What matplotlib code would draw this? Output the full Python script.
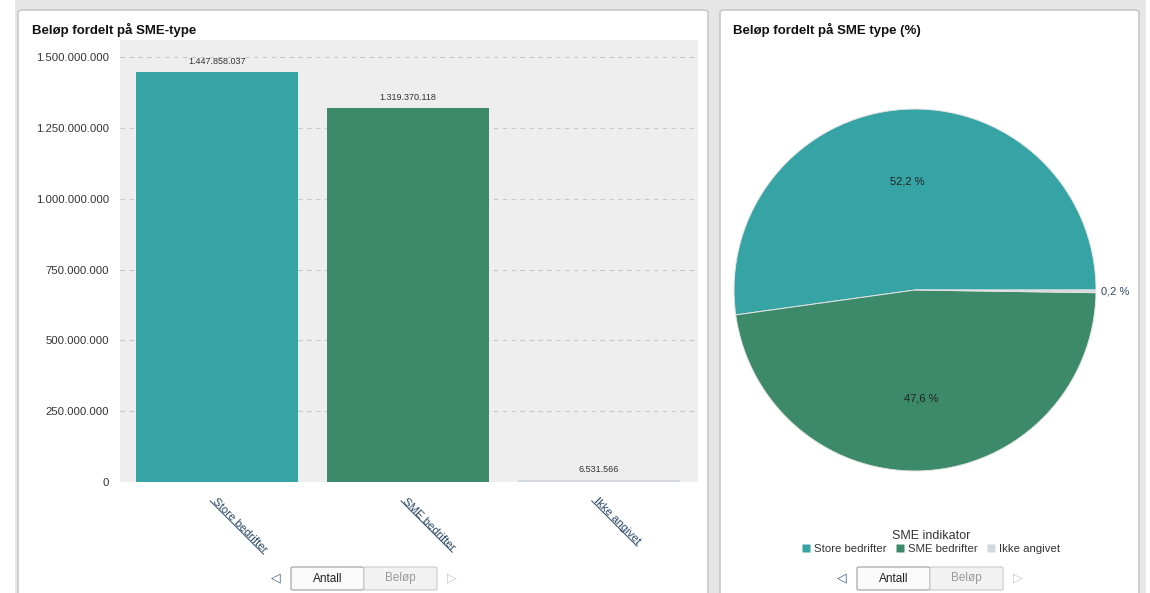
import matplotlib.pyplot as plt
from matplotlib.patches import FancyBboxPatch, Rectangle
from matplotlib.lines import Line2D
import numpy as np

plt.rcParams['font.family'] = ['Liberation Sans', 'DejaVu Sans']

# data
categories = ['Store bedrifter', 'SME bedrifter', 'Ikke angivet']
amounts = [1447858037, 1319370118, 6531566]
colors = ['#36a3a5', '#3d8a6a', '#d3d7de']
yticks = [0, 250000000, 500000000, 750000000, 1000000000, 1250000000, 1500000000]
legend_title = 'SME indikator'
left_title = 'Beløp fordelt på SME-type'
right_title = 'Beløp fordelt på SME type (%)'
buttons = ['Antall', 'Beløp']

W, H = 1150, 593


def fx(px):
    return px / W


def fy(py):
    return 1 - py / H


def thousands(v):
    return f"{int(v):,}".replace(',', '.')


fig = plt.figure(figsize=(W / 100, H / 100), dpi=100, facecolor='white')

# background and panels
fig.patches.append(Rectangle((fx(15), 0), fx(1146 - 15), 1, transform=fig.transFigure,
                             facecolor='#e6e6e6', edgecolor='none', zorder=-10))
for x0, x1 in [(18, 708), (720, 1139)]:
    fig.patches.append(FancyBboxPatch((fx(x0), fy(620)), fx(x1 - x0), fy(10) - fy(620),
                                      boxstyle='round,pad=0,rounding_size=0.004',
                                      transform=fig.transFigure, facecolor='white',
                                      edgecolor='#c8c8c8', linewidth=1.2, zorder=-9))

fig.text(fx(32), fy(30), left_title, fontsize=9.5, fontweight='bold', color='#111111', va='center')
fig.text(fx(733), fy(30), right_title, fontsize=9.5, fontweight='bold', color='#111111', va='center')

# bar chart
ax = fig.add_axes([fx(120), fy(482), fx(698 - 120), fy(40) - fy(482)])
ax.set_facecolor('#eeeeee')
x = np.arange(len(categories))
bars = ax.bar(x, amounts, width=0.85, color=colors, edgecolor='none', zorder=3)
ax.set_xlim(-0.51, 2.52)
ax.set_ylim(0, 1.56e9)
ax.set_yticks(yticks)
ax.set_yticklabels([thousands(v) for v in yticks], fontsize=8.2, color='#333333')
for v in yticks[1:]:
    ax.axhline(v, color='#c8c8c8', linestyle=(0, (4, 4)), linewidth=0.8, zorder=1)
for s in ax.spines.values():
    s.set_visible(False)
ax.tick_params(axis='both', length=0, pad=8)
ax.set_xticks(x)
ax.set_xticklabels(categories, rotation=-45, ha='left', va='top', rotation_mode='anchor',
                   fontsize=8.2, color='#2c4866')
ax.tick_params(axis='x', pad=10)
for b, v in zip(bars, amounts):
    ax.annotate(thousands(v), (b.get_x() + b.get_width() / 2, v), xytext=(0, 4.5),
                textcoords='offset points', ha='center', va='bottom', fontsize=6.5, color='#333333')

# pie chart
cx, cy, r = 915, 290, 181
pax = fig.add_axes([fx(cx - r), fy(cy + r), fx(2 * r), fy(cy - r) - fy(cy + r)])
wedges, _, autotexts = pax.pie(amounts, colors=colors, startangle=0, counterclock=True,
                               autopct=lambda p: f"{p:.1f}".replace('.', ',') + ' %',
                               pctdistance=0.6, wedgeprops=dict(edgecolor='#e4e4e4', linewidth=0.7),
                               textprops=dict(fontsize=8, color='#222222'))
pax.set_xlim(-1, 1)
pax.set_ylim(-1, 1)
# smallest slice label outside
w = wedges[2]
ang = np.deg2rad((w.theta1 + w.theta2) / 2)
autotexts[2].set_position((1.03 * np.cos(ang), 1.03 * np.sin(ang)))
autotexts[2].set_ha('left')
autotexts[2].set_color('#2c4866')

handles = [Line2D([], [], marker='s', linestyle='none', markersize=6, markerfacecolor=c,
                  markeredgecolor='none') for c in colors]
leg = fig.legend(handles, categories, loc='center', bbox_to_anchor=(fx(931), fy(542)), ncol=3,
                 frameon=False, fontsize=8.2, title=legend_title, title_fontsize=9,
                 handlelength=0.8, handletextpad=0.3, columnspacing=0.8, borderpad=0,
                 labelspacing=0.2)
for t in leg.get_texts():
    t.set_color('#333333')
leg.get_title().set_color('#333333')


# buttons
def draw_buttons(x0):
    y0, y1 = 567, 590
    bw = 73
    for i, name in enumerate(buttons):
        active = i == 0
        fig.patches.append(FancyBboxPatch((fx(x0 + i * bw), fy(y1)), fx(bw), fy(y0) - fy(y1),
                                          boxstyle='round,pad=0,rounding_size=0.002',
                                          transform=fig.transFigure,
                                          facecolor='#fafafa' if active else '#f2f2f2',
                                          edgecolor='#a8a8a8' if active else '#d0d0d0',
                                          linewidth=0.9))
        fig.text(fx(x0 + i * bw + bw / 2), fy((y0 + y1) / 2), name, ha='center', va='center',
                 fontsize=8.5, color='#222222' if active else '#9a9a9a')
    fig.text(fx(x0 - 15), fy(578), '◁', ha='center', va='center', fontsize=9,
             color='#3a5a7a', family='DejaVu Sans')
    fig.text(fx(x0 + 2 * bw + 15), fy(578), '▷', ha='center', va='center', fontsize=9,
             color='#c8c8c8', family='DejaVu Sans')


draw_buttons(291)
draw_buttons(857)

# underline x tick labels (shifted perpendicular to the rotated text)
fig.canvas.draw()
renderer = fig.canvas.get_renderer()
for lab in ax.get_xticklabels():
    bb = lab.get_window_extent(renderer)
    a, s = 2.5, 2.5
    fig.add_artist(Line2D([fx(bb.x0 + a - s), fx(bb.x1 - a - s)],
                          [(bb.y1 - a - s) / H, (bb.y0 + a - s) / H],
                          transform=fig.transFigure, color='#2c4866', linewidth=0.7))

fig.savefig('out.png', dpi=100, facecolor=fig.get_facecolor())
